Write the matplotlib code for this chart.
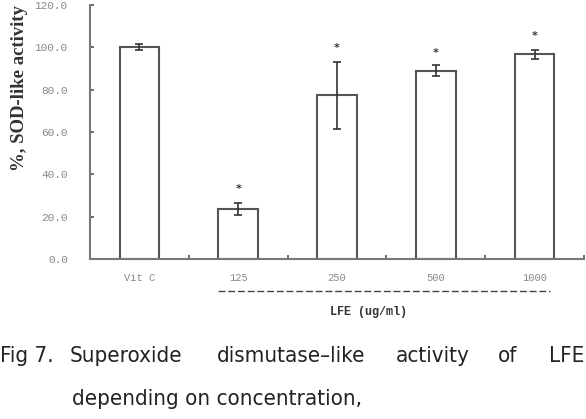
import matplotlib
matplotlib.use("Agg")
import matplotlib.pyplot as plt
from matplotlib.lines import Line2D
import numpy as np

categories = ["Vit C", "125", "250", "500", "1000"]
values = [100.2, 23.6, 77.3, 89.0, 96.7]
errors = [1.5, 3.0, 16.0, 2.5, 2.0]
marks = ["", "*", "*", "*", "*"]
mark_y = [None, 33.0, 99.5, 97.5, 105.5]
yticks = [0, 20, 40, 60, 80, 100, 120]

fig = plt.figure(figsize=(5.86, 4.19), dpi=100)
ax = fig.add_axes([90/586, 1-259/419, (584-90)/586, (259-5)/419])

x = np.arange(len(categories))
grey = "#555555"
ax.bar(x, values, width=0.4, color="white", edgecolor=grey, linewidth=1.5, zorder=2)
ax.errorbar(x, values, yerr=errors, fmt="none", ecolor="#333333", elinewidth=1.2,
            capsize=3, capthick=1.2, zorder=3)
for xi, m, my in zip(x, marks, mark_y):
    if m:
        ax.text(xi, my, m, ha="center", va="center", fontsize=8, fontweight="bold",
                color="#333333", family="DejaVu Sans")

ax.set_xlim(-0.5, len(categories) - 0.5)
ax.set_ylim(0, 120)
ax.set_yticks(yticks)
ax.set_yticklabels([f"{v:.1f}" for v in yticks], family="Liberation Mono",
                   fontsize=8, color="#888888")
ax.set_xticks(x)
ax.set_xticklabels(categories, family="Liberation Mono", fontsize=7.5, color="#888888")
ax.set_xticks(np.arange(len(categories)) + 0.5, minor=True)
ax.tick_params(axis="x", which="major", length=0, pad=10)
ax.tick_params(axis="x", which="minor", direction="in", length=3, color=grey, width=1.2)
ax.tick_params(axis="y", direction="in", length=3, color=grey, width=1.2, pad=16)
for s in ["top", "right"]:
    ax.spines[s].set_visible(False)
for s in ["left", "bottom"]:
    ax.spines[s].set_color("#777777")
    ax.spines[s].set_linewidth(1.5)

fig.text(20/586, 1-88/419, "%, SOD-like activity", rotation=90, ha="center", va="center",
         family="Liberation Serif", fontweight="bold", fontsize=13.5, color="#333333")

fig.add_artist(Line2D([218/586, 550/586], [1-290.5/419, 1-290.5/419],
                      transform=fig.transFigure, color="#444444", linewidth=1.0,
                      dashes=(5, 2)))
fig.text(368/586, 1-312/419, "LFE (ug/ml)", ha="center", va="center",
         family="Liberation Mono", fontweight="bold", fontsize=8.5, color="#333333")

cap_font = dict(family="DejaVu Sans", fontstretch="condensed", fontsize=16, color="#222222")
line1 = [("Fig 7.", 0), ("Superoxide", 70), ("dismutase\u2013like", 217),
         ("activity", 396), ("of", 498), ("LFE", 549)]
for word, px in line1:
    fig.text(px/586, 1-362/419, word, ha="left", va="baseline", **cap_font)
fig.text(72/586, 1-405/419, "depending on concentration,", ha="left", va="baseline", **cap_font)

fig.savefig("out.png", dpi=100)
